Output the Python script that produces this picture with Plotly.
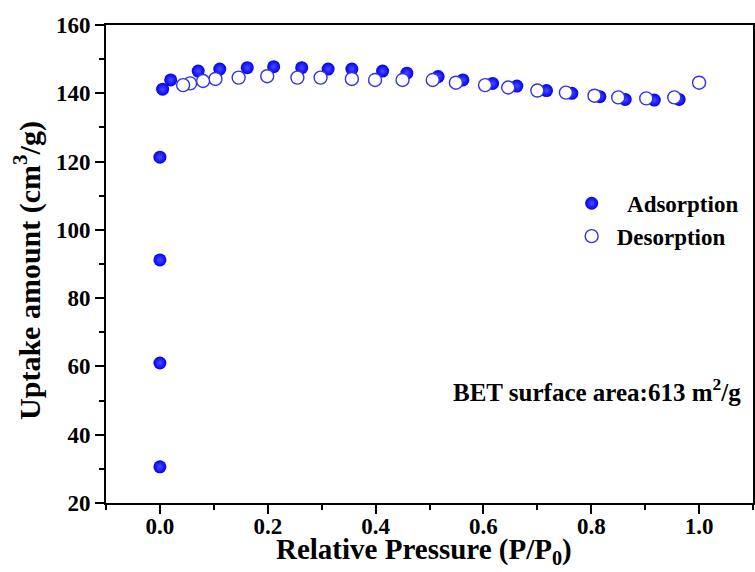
import plotly.graph_objects as go

# Adsorption branch
ads_x = [0.0, 0.0, 0.0, 0.0, 0.005, 0.020, 0.071, 0.111, 0.162, 0.211, 0.263, 0.312,
         0.356, 0.413, 0.458, 0.516, 0.562, 0.617, 0.662, 0.717, 0.764, 0.816,
         0.863, 0.917, 0.963]
ads_y = [30.6, 61.0, 91.2, 121.3, 141.2, 143.9, 146.5, 147.1, 147.5, 147.8, 147.5, 147.1,
         147.1, 146.5, 145.9, 144.9, 143.9, 142.9, 142.1, 140.8, 140.0, 139.0,
         138.2, 138.0, 138.2]

# Desorption branch
des_x = [1.0, 0.954, 0.902, 0.850, 0.806, 0.753, 0.700, 0.646, 0.603, 0.549, 0.506,
         0.450, 0.399, 0.356, 0.298, 0.255, 0.199, 0.146, 0.103, 0.080, 0.056, 0.043]
des_y = [143.1, 138.8, 138.5, 138.8, 139.3, 140.2, 140.8, 141.7, 142.4, 143.1, 143.9,
         143.9, 143.9, 144.2, 144.6, 144.6, 145.0, 144.6, 144.2, 143.6, 142.9, 142.4]

x_ticks = [0.0, 0.2, 0.4, 0.6, 0.8, 1.0]
y_ticks = [20, 40, 60, 80, 100, 120, 140, 160]

FONT = "Liberation Serif"

fig = go.Figure()
fig.add_trace(go.Scatter(
    x=ads_x, y=ads_y, mode="markers", name="\u00a0\u2009Adsorption",
    legendgroup="a",
    marker=dict(symbol="circle", size=13, color="#0000f5",
                gradient=dict(type="radial", color="#4a4aff"),
                line=dict(width=0)),
))
fig.add_trace(go.Scatter(
    x=des_x, y=des_y, mode="markers", name="Desorption",
    legendgroup="d",
    marker=dict(symbol="circle", size=13, color="white",
                line=dict(width=1.4, color="#3333e6")),
))

axis_common = dict(
    showline=True, linecolor="black", linewidth=2, mirror=True,
    ticks="outside", ticklen=9, tickwidth=2, tickcolor="black",
    showgrid=False, zeroline=False, automargin=False,
    tickfont=dict(family=FONT, size=23, color="black", weight="bold"),
)

fig.update_xaxes(
    range=[-0.1, 1.1], tickvals=x_ticks, ticktext=[f"{v:.1f}" for v in x_ticks],
    ticklabelstandoff=-8,
    minor=dict(ticks="outside", ticklen=5, tickwidth=2, tickcolor="black", dtick=0.1, tick0=0),
    **axis_common,
)
fig.update_yaxes(
    range=[20, 160], tickvals=y_ticks,
    minor=dict(ticks="outside", ticklen=5, tickwidth=2, tickcolor="black", dtick=10, tick0=0),
    **axis_common,
)

# axis titles placed as annotations for precise positioning
fig.add_annotation(
    x=-0.121, y=0.487, xref="paper", yref="paper", xanchor="center", yanchor="middle",
    textangle=-90, showarrow=False,
    text="Uptake amount (cm<sup>3</sup>/g)",
    font=dict(family=FONT, size=30, color="black", weight="bold"),
)
fig.add_annotation(
    x=0.492, y=-0.100, xref="paper", yref="paper", xanchor="center", yanchor="middle",
    showarrow=False,
    text="Relative Pressure (P/P<sub>0</sub>)",
    font=dict(family=FONT, size=29, color="black", weight="bold"),
)

fig.add_annotation(
    x=1.082, y=53, xref="x", yref="y", xanchor="right", yanchor="middle",
    text="BET surface area:613 m<sup>2</sup>/g", showarrow=False,
    font=dict(family=FONT, size=25, color="black", weight="bold"),
)

fig.update_layout(
    width=755, height=572,
    margin=dict(l=106, r=2, t=25, b=69),
    paper_bgcolor="white", plot_bgcolor="white",
    font=dict(family=FONT, color="black"),
    legend=dict(x=0.712, y=0.672, xanchor="left", yanchor="top",
                bgcolor="rgba(0,0,0,0)", traceorder="grouped", tracegroupgap=0,
                itemwidth=40,
                font=dict(family=FONT, size=23, color="black", weight="bold")),
)

fig.write_html("out.html", config={"displayModeBar": False},
               post_script="document.body.style.margin='0';document.body.style.padding='0';")
